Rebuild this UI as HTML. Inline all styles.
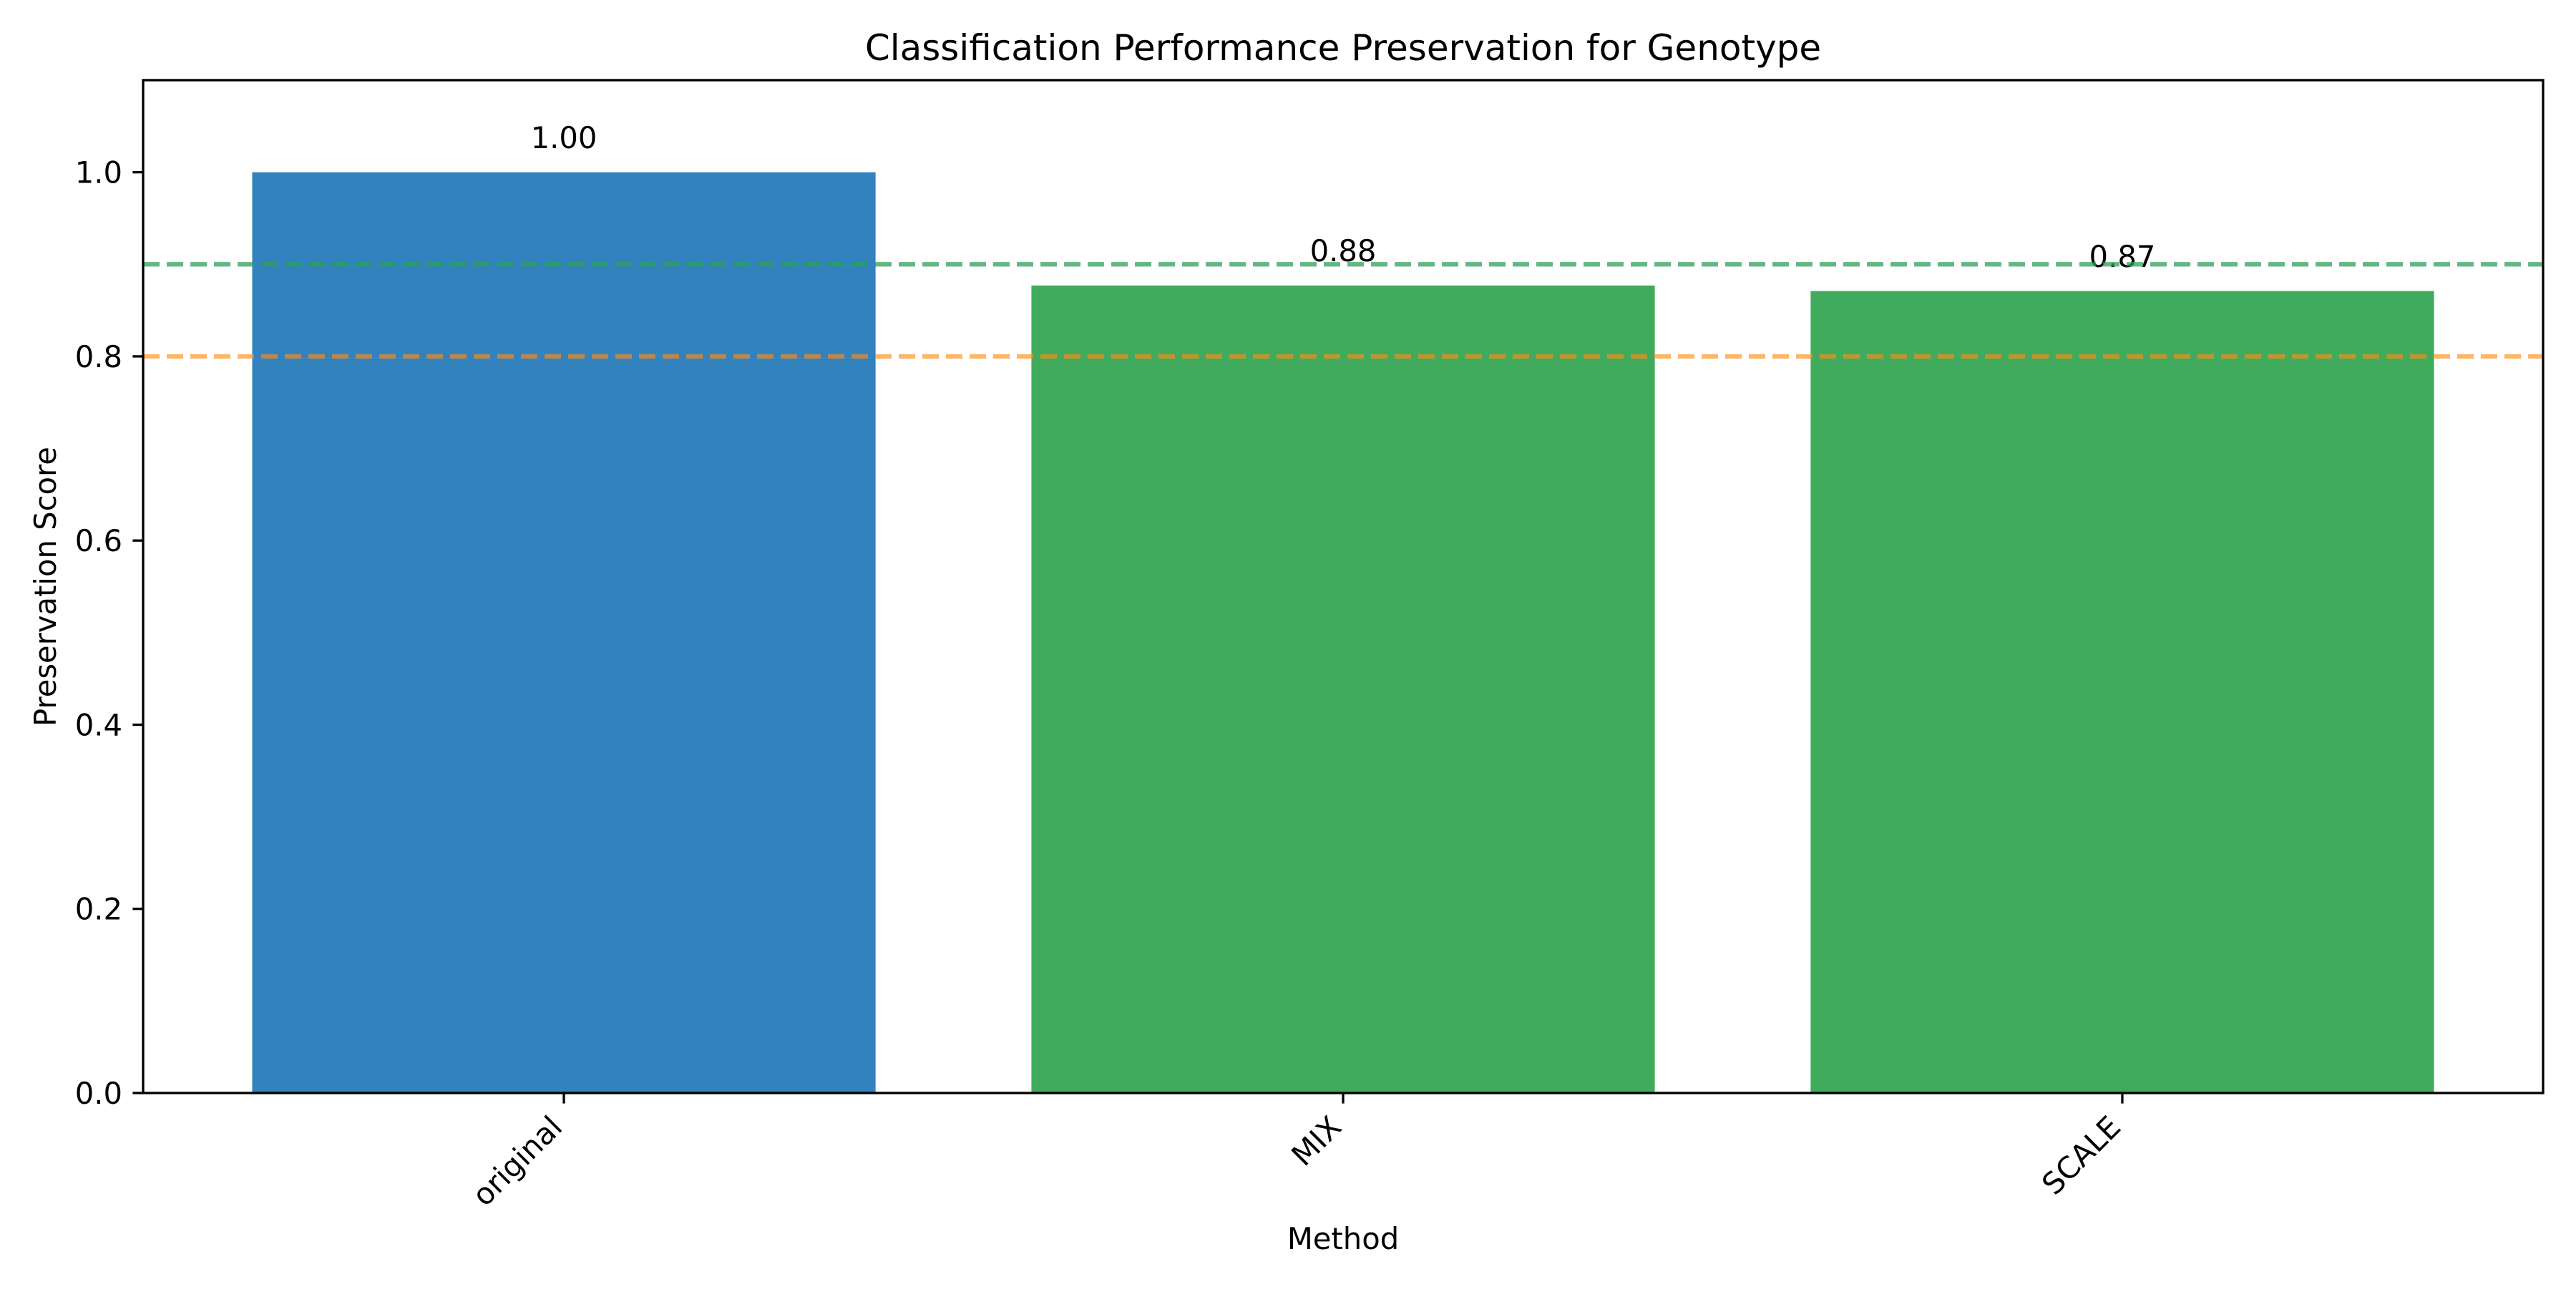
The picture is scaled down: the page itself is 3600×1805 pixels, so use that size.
<!DOCTYPE html>
<html><head><meta charset="utf-8"><style>
html,body{margin:0;padding:0;background:#fff;}
svg text{font-family:"DejaVu Sans","Liberation Sans",sans-serif;fill:#000;}
</style></head><body>
<svg id="chart" width="3600" height="1800" viewBox="0 0 3600 1800" xmlns="http://www.w3.org/2000/svg">
<rect width="3600" height="1800" fill="#fff"/>
<g id="plot"></g>
</svg>
<script>
const categories = ["original", "MIX", "SCALE"];
const values = [1.0, 0.877, 0.871];
const valueLabels = ["1.00", "0.88", "0.87"];
const barColors = ["#3282bd", "#41ab5d", "#41ab5d"];
const yTicks = [0.0, 0.2, 0.4, 0.6, 0.8, 1.0];
const yTickLabels = ["0.0", "0.2", "0.4", "0.6", "0.8", "1.0"];
const thresholds = [0.9, 0.8];
const thresholdColors = ["rgba(44,160,90,0.75)", "rgba(255,140,20,0.65)"];

const L = 200, R = 3554, T = 112, B = 1527;
const yMin = 0, yMax = 1.1, xMin = -0.54, xMax = 2.54;
const sx = v => L + (v - xMin) / (xMax - xMin) * (R - L);
const sy = v => B - (v - yMin) / (yMax - yMin) * (B - T);
const NS = "http://www.w3.org/2000/svg";
const g = document.getElementById('plot');
function mk(tag, attrs, text) {
  const e = document.createElementNS(NS, tag);
  for (const k in attrs) e.setAttribute(k, attrs[k]);
  if (text !== undefined) e.textContent = text;
  g.appendChild(e);
  return e;
}
categories.forEach((c, i) => {
  const x0 = sx(i - 0.4), x1 = sx(i + 0.4);
  const r = mk('rect', {x: x0, y: sy(values[i]), width: x1 - x0, height: sy(0) - sy(values[i]), fill: barColors[i]});
  
  
  const t = mk('text', {x: sx(i), y: sy(values[i] + 0.02) - 8, 'font-size': 41.7, 'text-anchor': 'middle'}, valueLabels[i]);
  
  
  const tk = mk('line', {x1: sx(i), x2: sx(i), y1: B, y2: B + 14.6, stroke: '#000', 'stroke-width': 3.3});
  
  
  const tx = sx(i) - 22, ty = B + 28;
  const lbl = mk('text', {x: tx, y: ty, 'font-size': 41.7, 'text-anchor': 'end', 'dominant-baseline': 'hanging', transform: `rotate(-45 ${tx} ${ty})`}, c);
  
  
});
thresholds.forEach((v, i) => {
  const ln = mk('line', {x1: L, x2: R, y1: sy(v), y2: sy(v), stroke: thresholdColors[i], 'stroke-width': 6.25, 'stroke-dasharray': '23 10'});
  
  
});
yTicks.forEach((v, i) => {
  const tk = mk('line', {x1: L - 14.6, x2: L, y1: sy(v), y2: sy(v), stroke: '#000', 'stroke-width': 3.3});
  
  
  const t = mk('text', {x: L - 29, y: sy(v) + 15, 'font-size': 41.7, 'text-anchor': 'end'}, yTickLabels[i]);
  
  
});
const fr = mk('rect', {x: L, y: T, width: R - L, height: B - T, fill: 'none', stroke: '#000', 'stroke-width': 3.3});


const title = mk('text', {x: (L + R) / 2, y: 84, 'font-size': 50, 'text-anchor': 'middle'}, 'Classification Performance Preservation for Genotype');


const xl = mk('text', {x: (L + R) / 2, y: 1745, 'font-size': 41.7, 'text-anchor': 'middle'}, 'Method');


const yl = mk('text', {x: 78, y: (T + B) / 2, 'font-size': 41.7, 'text-anchor': 'middle', transform: `rotate(-90 78 ${(T + B) / 2})`}, 'Preservation Score');


</script>
</body></html>
